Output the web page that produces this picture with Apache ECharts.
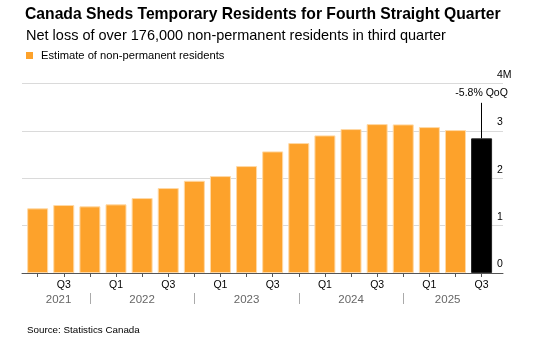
<!DOCTYPE html>
<html>
<head>
<meta charset="utf-8">
<script src="https://cdn.jsdelivr.net/npm/echarts@6/dist/echarts.min.js"></script>
<style>
  html, body { margin: 0; padding: 0; background: #fff; }
  #chart { width: 533px; height: 341px; }
</style>
</head>
<body>
<div id="chart"></div>
<script>
// Quarterly estimate of non-permanent residents in Canada (millions)
const years    = [2021, 2021, 2021, 2022, 2022, 2022, 2022, 2023, 2023, 2023, 2023, 2024, 2024, 2024, 2024, 2025, 2025, 2025];
const quarters = ['Q2', 'Q3', 'Q4', 'Q1', 'Q2', 'Q3', 'Q4', 'Q1', 'Q2', 'Q3', 'Q4', 'Q1', 'Q2', 'Q3', 'Q4', 'Q1', 'Q2', 'Q3'];
const residents = [1.365, 1.435, 1.407, 1.449, 1.582, 1.793, 1.947, 2.046, 2.257, 2.567, 2.743, 2.905, 3.038, 3.143, 3.137, 3.080, 3.017, 2.842];
const yTicks   = [0, 1, 2, 3, 4];

const FONT = '"Liberation Sans", Arial, sans-serif';
const ORANGE = '#fda22b';
const last = residents.length - 1;
const halfBar = 0.4;

// quarter-over-quarter change of the latest bar
const qoq = (residents[last] / residents[last - 1] - 1) * 100;

// ticks under every bar, labels for Q1 and Q3 only
const barIdx = residents.map((_, i) => i);
const qLabelIdx = barIdx.filter(i => quarters[i] === 'Q1' || quarters[i] === 'Q3');

// year separators sit under the Q4 bars (except a final Q4)
const sepIdx = barIdx.filter(i => quarters[i] === 'Q4' && i < last);

// each year label is centred in its span, clipped to the bars
const uniqYears = [...new Set(years)];
const yearPos = uniqYears.map(y => {
  const first = years.indexOf(y), end = years.lastIndexOf(y);
  const prev = sepIdx.filter(s => s < first).pop();
  const next = sepIdx.find(s => s >= end);
  const lo = prev === undefined ? first - halfBar : prev;
  const hi = next === undefined ? end + halfBar : next;
  return (lo + hi) / 2;
});

const X_MIN = -0.6, X_MAX = 17.82;

const chart = echarts.init(document.getElementById('chart'), null, { renderer: 'canvas' });

chart.setOption({
  animation: false,
  backgroundColor: '#fff',
  textStyle: { fontFamily: FONT },
  title: [
    {
      text: 'Canada Sheds Temporary Residents for Fourth Straight Quarter',
      left: 20, top: 2,
      textStyle: { fontFamily: FONT, fontSize: 15.7, fontWeight: 'bold', color: '#000' }
    },
    {
      text: 'Net loss of over 176,000 non-permanent residents in third quarter',
      left: 21, top: 23,
      textStyle: { fontFamily: FONT, fontSize: 14.5, fontWeight: 'normal', color: '#000' }
    },
    {
      text: 'Source: Statistics Canada',
      left: 22, top: 320,
      textStyle: { fontFamily: FONT, fontSize: 9.8, fontWeight: 'normal', color: '#000' }
    }
  ],
  legend: {
    left: 21, top: 45,
    itemWidth: 7, itemHeight: 7,
    icon: 'rect',
    textStyle: { fontFamily: FONT, fontSize: 11.2, color: '#000', padding: [0, 0, 0, 3] },
    data: ['Estimate of non-permanent residents']
  },
  grid: { left: 22, right: 30, top: 83.5, bottom: 68, containLabel: false },
  xAxis: [
    {
      type: 'value', min: X_MIN, max: X_MAX,
      axisLine: { show: true, lineStyle: { color: '#555', width: 1 } },
      axisTick: { show: true, length: 4, lineStyle: { color: '#555' }, customValues: barIdx },
      axisLabel: {
        customValues: qLabelIdx, margin: 7,
        fontFamily: FONT, fontSize: 10.5, color: '#000',
        formatter: v => quarters[Math.round(v)]
      },
      splitLine: { show: false }
    },
    {
      type: 'value', min: X_MIN, max: X_MAX, position: 'bottom', offset: 20,
      axisLine: { show: false },
      axisTick: { show: true, length: 11, lineStyle: { color: '#aaa' }, customValues: sepIdx },
      axisLabel: {
        customValues: yearPos, margin: 1,
        fontFamily: FONT, fontSize: 11.5, color: '#666',
        formatter: v => {
          let k = 0;
          yearPos.forEach((p, j) => { if (Math.abs(p - v) < Math.abs(yearPos[k] - v)) k = j; });
          return String(uniqYears[k]);
        }
      },
      splitLine: { show: false }
    }
  ],
  yAxis: {
    type: 'value', position: 'right',
    min: yTicks[0], max: yTicks[yTicks.length - 1], interval: 1,
    axisLine: { show: false },
    axisTick: { show: false },
    axisLabel: {
      margin: -6, align: 'left', verticalAlign: 'bottom', padding: [0, 0, 3, 0],
      fontFamily: FONT, fontSize: 10.5, color: '#000',
      formatter: v => (v === yTicks[yTicks.length - 1] ? v + 'M' : String(v))
    },
    splitLine: { show: true, lineStyle: { color: '#dadada', width: 1 } }
  },
  series: [
    {
      name: 'Estimate of non-permanent residents',
      type: 'bar',
      xAxisIndex: 0,
      barWidth: 21,
      itemStyle: { color: ORANGE },
      data: residents.map((v, i) => ({
        value: [i, v],
        itemStyle: i === last
          ? { color: '#000', borderColor: '#222', borderWidth: 1 }
          : { color: ORANGE, borderColor: '#ffd9a6', borderWidth: 1 }
      })),
      markLine: {
        silent: true,
        symbol: ['none', 'none'],
        lineStyle: { color: '#000', width: 1, type: 'solid' },
        label: {
          show: true, position: 'end', distance: 4,
          fontFamily: FONT, fontSize: 10.5, color: '#000',
          formatter: () => qoq.toFixed(1) + '% QoQ'
        },
        data: [[
          { coord: [last, residents[last]] },
          { coord: [last, residents[last] + 0.75] }
        ]]
      }
    }
  ]
});
</script>
</body>
</html>
